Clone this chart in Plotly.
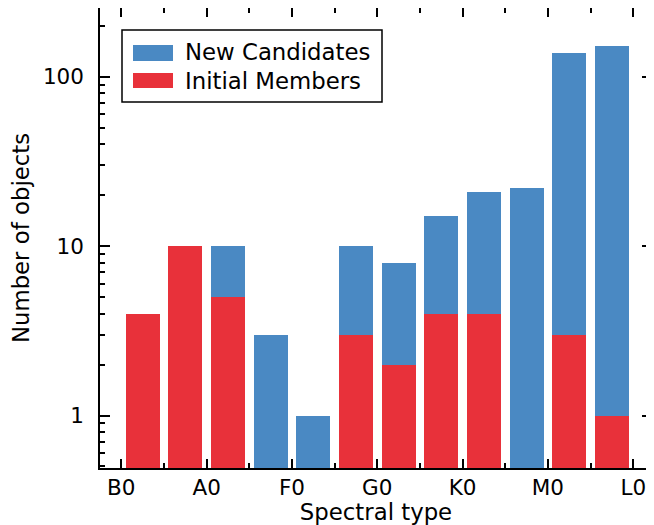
import plotly.graph_objects as go

# Data
bin_centers = [2.5, 7.5, 12.5, 17.5, 22.5, 27.5, 32.5, 37.5, 42.5, 47.5, 52.5, 57.5]
initial_members = [4, 10, 5, 0, 0, 3, 2, 4, 4, 0, 3, 1]
new_candidates = [0, 0, 5, 3, 1, 7, 6, 11, 17, 22, 135, 151]
tick_positions = [0, 10, 20, 30, 40, 50, 60]
tick_labels = ["B0", "A0", "F0", "G0", "K0", "M0", "L0"]

BLUE = "#4A89C3"
RED = "#E8313A"
FONT = "DejaVu Sans"
TICK_SIZE = 21.5
TEXT_SIZE = 22.8

FIG_W, FIG_H = 646, 517
ML, MR, MT, MB = 92, 2, 0, 57

fig = go.Figure()
fig.add_trace(go.Bar(x=bin_centers, y=initial_members, name="Initial Members",
                     marker=dict(color=RED, line=dict(width=0)), width=4.0,
                     showlegend=False))
fig.add_trace(go.Bar(x=bin_centers, y=new_candidates, name="New Candidates",
                     marker=dict(color=BLUE, line=dict(width=0)), width=4.0,
                     showlegend=False))

axis_common = dict(showline=True, linecolor="black", linewidth=1.5, mirror="allticks",
                   ticks="inside", tickcolor="black", tickwidth=1.5, showgrid=False,
                   zeroline=False, tickfont=dict(family=FONT, size=TICK_SIZE, color="black"))

fig.update_xaxes(range=[-2.5, 62.2], tickvals=tick_positions, ticktext=tick_labels,
                 ticklen=9, ticklabelstandoff=-1,
                 minor=dict(dtick=5, tick0=0, ticks="inside", ticklen=5,
                            tickwidth=1.5, tickcolor="black"),
                 title=dict(text="Spectral type", font=dict(family=FONT, size=TEXT_SIZE, color="black"),
                            standoff=3),
                 **axis_common)
fig.update_yaxes(type="log", range=[-0.31, 2.407], tickvals=[1, 10, 100],
                 ticktext=["1", "10", "100"], ticklen=10, ticklabelstandoff=10,
                 minor=dict(dtick="D1", ticks="inside", ticklen=5, tickwidth=1.5,
                            tickcolor="black"),
                 title=dict(text="Number of objects", font=dict(family=FONT, size=TEXT_SIZE, color="black"),
                            standoff=14),
                 **axis_common)

fig.update_layout(
    barmode="stack",
    bargap=0,
    width=FIG_W, height=FIG_H,
    margin=dict(l=ML, r=MR, t=MT, b=MB, autoexpand=False),
    paper_bgcolor="white", plot_bgcolor="white",
    font=dict(family=FONT, size=TEXT_SIZE, color="black"),
)

# legend drawn matplotlib-style; coordinates in screen pixels (page offset 8px)
OFF = 8
W = FIG_W - ML - MR
H = FIG_H - MT - MB
def px(x):
    return (x - OFF - ML) / W
def py(y):
    return 1 - (y - OFF - MT) / H

fig.add_shape(type="rect", xref="paper", yref="paper", x0=px(122), x1=px(382), y0=py(102), y1=py(30),
              line=dict(color="black", width=1.5), fillcolor="white", layer="above")
fig.add_shape(type="rect", xref="paper", yref="paper", x0=px(133), x1=px(173), y0=py(61), y1=py(45),
              line=dict(width=0), fillcolor=BLUE, layer="above")
fig.add_shape(type="rect", xref="paper", yref="paper", x0=px(133), x1=px(173), y0=py(88), y1=py(73),
              line=dict(width=0), fillcolor=RED, layer="above")
fig.add_annotation(xref="paper", yref="paper", x=px(183), y=py(52), text="New Candidates",
                   showarrow=False, xanchor="left", yanchor="middle",
                   font=dict(family=FONT, size=TEXT_SIZE, color="black"))
fig.add_annotation(xref="paper", yref="paper", x=px(183), y=py(81), text="Initial Members",
                   showarrow=False, xanchor="left", yanchor="middle",
                   font=dict(family=FONT, size=TEXT_SIZE, color="black"))

fig.write_html("out.html")
